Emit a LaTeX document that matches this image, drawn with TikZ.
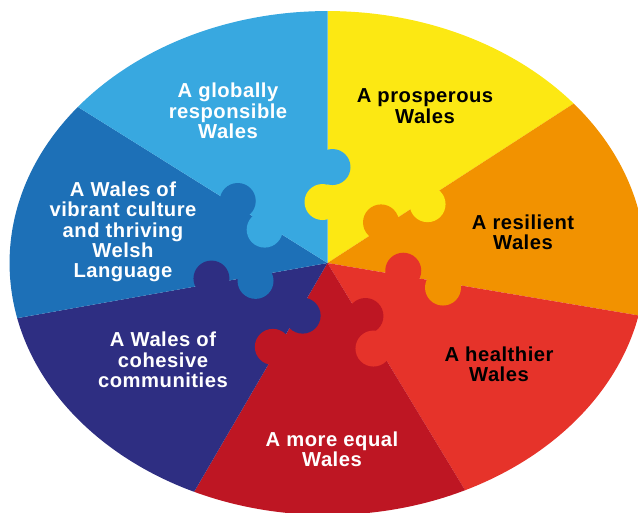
\documentclass[tikz,border=0pt]{standalone}
\usepackage{fontspec}
\newfontfamily\walesfont{Liberation Sans}[LetterSpace=2.5]
\usetikzlibrary{calc}
\definecolor{skyblue}{RGB}{56,168,224}
\definecolor{sunyellow}{RGB}{252,232,19}
\definecolor{amber}{RGB}{242,146,0}
\definecolor{brightred}{RGB}{230,51,42}
\definecolor{wine}{RGB}{190,22,35}
\definecolor{indigo}{RGB}{46,46,130}
\definecolor{royal}{RGB}{29,112,183}
\tikzset{
	goal/.style = {align = center, inner sep = 0pt, font = \walesfont\bfseries\fontsize{11.5}{11.6}\selectfont},
	goalw/.style = {goal, text = white},
	goalb/.style = {goal, text = black}
}
\begin{document}
\begin{tikzpicture} [x = 0.02cm, y = -0.02cm]
	\useasboundingbox (0,0) rectangle (638,512);
	\coordinate (O) at (327.5,263);
	\coordinate (E1) at (327.5,11);
	\coordinate (E2) at (573,104);
	\coordinate (E3) at (636,315);
	\coordinate (E4) at (465,490);
	\coordinate (E5) at (194,492);
	\coordinate (E6) at (18,318);
	\coordinate (E7) at (78,107);
	\scope
	\clip (O) ellipse [x radius = 6.36cm, y radius = 5.04cm];
	\fill [sunyellow] (O) -- ($(O)!3!(E1)$) -- ($(O)!3!(E2)$) -- cycle;
	\fill [amber] (O) -- ($(O)!3!(E2)$) -- ($(O)!3!(E3)$) -- cycle;
	\fill [brightred] (O) -- ($(O)!3!(E3)$) -- ($(O)!3!(E4)$) -- cycle;
	\fill [wine] (O) -- ($(O)!3!(E4)$) -- ($(O)!3!(E5)$) -- cycle;
	\fill [indigo] (O) -- ($(O)!3!(E5)$) -- ($(O)!3!(E6)$) -- cycle;
	\fill [royal] (O) -- ($(O)!3!(E6)$) -- ($(O)!3!(E7)$) -- cycle;
	\fill [skyblue] (O) -- ($(O)!3!(E7)$) -- ($(O)!3!(E1)$) -- cycle;
	% puzzle knobs: inner one pushes to the left, outer one to the right
	\foreach \e/\din/\dout/\cin/\cout in {E1/1.22/1.92/sunyellow/skyblue, E2/1.34/2.32/amber/sunyellow,
		E3/1.52/2.36/brightred/amber, E4/1.30/1.94/wine/brightred, E5/1.16/2.00/indigo/wine,
		E6/1.48/2.34/royal/indigo, E7/1.42/2.18/skyblue/royal} {
		\fill [\cin] ($(O)!\din cm!(\e)!0.1cm!90:(\e)$) circle (0.36cm);
		\fill [\cout] ($(O)!\dout cm!(\e)!0.1cm!-90:(\e)$) circle (0.36cm);
	}
	\endscope
	\node [goalw] (globally) at (228,111) {A globally\\responsible\\Wales};
	\node [goalb] (prosperous) at (425,106) {A prosperous\\Wales};
	\node [goalb] (resilient) at (523,232) {A resilient\\Wales};
	\node [goalb] (healthier) at (499,364) {A healthier\\Wales};
	\node [goalw] (equal) at (332,449) {A more equal\\Wales};
	\node [goalw] (cohesive) at (163,360) {A Wales of\\cohesive\\communities};
	\node [goalw] (culture) at (123,232) {A Wales of\\vibrant culture\\and thriving\\Welsh\\Language};
\end{tikzpicture}
\end{document}
